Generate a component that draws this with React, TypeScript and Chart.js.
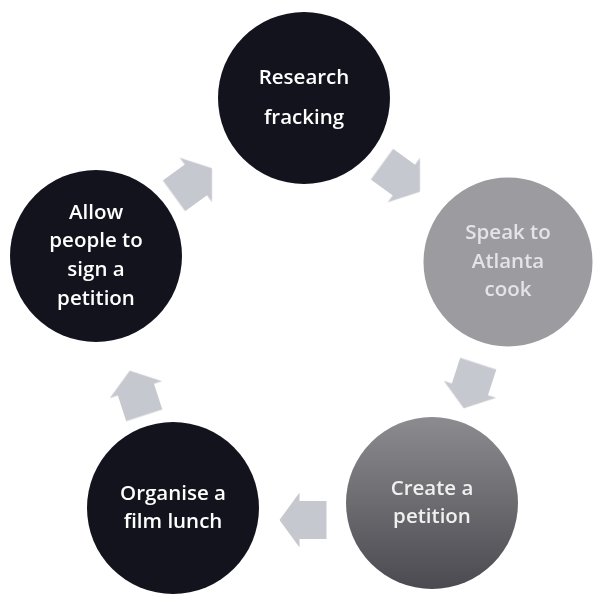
import React, { useEffect, useRef } from "react";
import { Chart, registerables } from "chart.js";

Chart.register(...registerables);

// Cycle steps (clockwise from top)
const stepLabels: string[][] = [
  ["Research", "fracking"],
  ["Speak to", "Atlanta", "cook"],
  ["Create a", "petition"],
  ["Organise a", "film lunch"],
  ["Allow", "people to", "sign a", "petition"],
];
const stepX = [304, 508, 432, 173, 96];
const stepY = [98, 262, 503, 508, 256];

// Connector arrows between steps
const arrowX = [401, 471, 303, 137, 193];
const arrowY = [178, 386, 520, 393, 182];
const arrowAngle = [36, 108, 180, 252, 324];

const RADIUS = 86;
const lineHeights = [40, 28.5, 28, 27.5, 28.7];
const textColors = ["#ffffff", "#e4e4e6", "#f0f0f0", "#ffffff", "#ffffff"];

function makeArrow(): HTMLCanvasElement {
  const c = document.createElement("canvas");
  c.width = 60;
  c.height = 60;
  const g = c.getContext("2d")!;
  g.fillStyle = "#c6c8cf";
  g.beginPath();
  g.moveTo(6.5, 11);
  g.lineTo(33.5, 11);
  g.lineTo(33.5, 2.5);
  g.lineTo(53.5, 30);
  g.lineTo(33.5, 57.5);
  g.lineTo(33.5, 49);
  g.lineTo(6.5, 49);
  g.closePath();
  g.fill();
  return c;
}

const labelPlugin = {
  id: "stepLabels",
  afterDatasetsDraw(chart: any) {
    const meta = chart.getDatasetMeta(1);
    const ctx = chart.ctx;
    ctx.save();
    ctx.font = "600 20.5px 'Open Sans'";
    ctx.textAlign = "center";
    ctx.textBaseline = "middle";
    meta.data.forEach((el: any, i: number) => {
      const lines = stepLabels[i];
      const lh = lineHeights[i];
      const start = el.y - ((lines.length - 1) * lh) / 2;
      ctx.fillStyle = textColors[i];
      lines.forEach((t, j) => ctx.fillText(t, el.x, start + j * lh));
    });
    ctx.restore();
  },
};

export default function App() {
  const ref = useRef<HTMLCanvasElement>(null);
  useEffect(() => {
    const arrowImg = makeArrow();
    const chart = new Chart(ref.current!, {
      type: "bubble",
      data: {
        datasets: [
          {
            type: "scatter",
            data: arrowX.map((x, i) => ({ x, y: arrowY[i] })),
            pointStyle: arrowImg as any,
            rotation: arrowAngle,
            pointRadius: 30,
            clip: false,
            order: 2,
          } as any,
          {
            type: "bubble",
            data: stepX.map((x, i) => ({ x, y: stepY[i], r: RADIUS })),
            backgroundColor: (c: any) => {
              const i = c.dataIndex;
              if (i === 1) return "#9b9ba0";
              if (i === 2) {
                const ch = c.chart;
                const ys = ch.scales && ch.scales.y;
                if (!ys) return "#6a6a6e";
                const top = ys.getPixelForValue(stepY[2] - RADIUS);
                const bot = ys.getPixelForValue(stepY[2] + RADIUS);
                if (!isFinite(top) || !isFinite(bot)) return "#6a6a6e";
                const g = ch.ctx.createLinearGradient(0, top, 0, bot);
                g.addColorStop(0, "#8c8c90");
                g.addColorStop(1, "#4a4a50");
                return g;
              }
              return "#13131d";
            },
            borderColor: (c: any) => (c.dataIndex === 1 ? "#ffffff" : "rgba(0,0,0,0)"),
            borderWidth: (c: any) => (c.dataIndex === 1 ? 3 : 0),
            clip: false,
            order: 1,
          } as any,
        ],
      },
      options: {
        animation: false,
        responsive: false,
        layout: { padding: 0, autoPadding: false },
        scales: {
          x: { type: "linear", min: 0, max: 595, display: false },
          y: { type: "linear", min: 0, max: 609, reverse: true, display: false },
        },
        plugins: { legend: { display: false }, tooltip: { enabled: false } },
        events: [],
      },
      plugins: [labelPlugin],
    });
    return () => chart.destroy();
  }, []);
  return (
    <div style={{ position: "absolute", left: 0, top: 0, width: 595, height: 609, background: "#fff" }}>
      <canvas ref={ref} width={595} height={609} />
    </div>
  );
}
